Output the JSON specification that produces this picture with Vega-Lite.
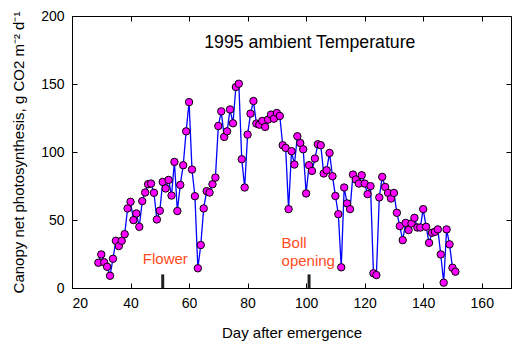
{
  "$schema": "https://vega.github.io/schema/vega-lite/v6.json",
  "width": 439,
  "height": 272,
  "autosize": {"type": "none"},
  "padding": {"left": 72, "top": 16, "right": 1, "bottom": 55},
  "background": "white",
  "config": {
    "font": "Liberation Sans",
    "view": {"stroke": "black", "strokeWidth": 1},
    "axis": {"grid": false, "domainColor": "black", "tickColor": "black", "labelColor": "black", "titleColor": "black", "labelFont": "Liberation Sans", "titleFont": "Liberation Sans", "titleFontWeight": "normal", "labelFontSize": 14, "titleFontSize": 15, "tickSize": -5, "domain": true}
  },
  "datasets": {
    "pn": [
      {"day": 29, "pn": 18.6}, {"day": 30, "pn": 24.7}, {"day": 31, "pn": 18.9}, {"day": 32, "pn": 15.6}, {"day": 33, "pn": 9.0},
      {"day": 34, "pn": 21.5}, {"day": 35, "pn": 34.7}, {"day": 36, "pn": 30.8}, {"day": 37, "pn": 34.7}, {"day": 38, "pn": 39.6},
      {"day": 39, "pn": 58.5}, {"day": 40, "pn": 63.4}, {"day": 41, "pn": 49.9}, {"day": 42, "pn": 54.8}, {"day": 43, "pn": 45.0},
      {"day": 44, "pn": 63.9}, {"day": 45, "pn": 70.2}, {"day": 46, "pn": 76.3}, {"day": 47, "pn": 76.8}, {"day": 48, "pn": 70.0},
      {"day": 49, "pn": 50.4}, {"day": 50, "pn": 56.8}, {"day": 51, "pn": 78.0}, {"day": 52, "pn": 73.2}, {"day": 53, "pn": 79.5},
      {"day": 54, "pn": 68.0}, {"day": 55, "pn": 92.7}, {"day": 56, "pn": 56.6}, {"day": 57, "pn": 75.8}, {"day": 58, "pn": 90.3},
      {"day": 59, "pn": 115.2}, {"day": 60, "pn": 136.7}, {"day": 61, "pn": 87.1}, {"day": 62, "pn": 67.5}, {"day": 63, "pn": 14.5},
      {"day": 64, "pn": 31.6}, {"day": 65, "pn": 58.5}, {"day": 66, "pn": 71.2}, {"day": 67, "pn": 70.2}, {"day": 68, "pn": 76.3},
      {"day": 69, "pn": 81.2}, {"day": 70, "pn": 119.1}, {"day": 71, "pn": 129.9}, {"day": 72, "pn": 111.1}, {"day": 73, "pn": 115.2},
      {"day": 74, "pn": 131.3}, {"day": 75, "pn": 121.1}, {"day": 76, "pn": 147.8}, {"day": 77, "pn": 150.2}, {"day": 78, "pn": 94.7},
      {"day": 79, "pn": 73.9}, {"day": 80, "pn": 112.8}, {"day": 81, "pn": 128.2}, {"day": 82, "pn": 137.5}, {"day": 83, "pn": 120.9},
      {"day": 84, "pn": 120.1}, {"day": 85, "pn": 122.8}, {"day": 86, "pn": 118.4}, {"day": 87, "pn": 123.8}, {"day": 88, "pn": 127.5},
      {"day": 89, "pn": 124.5}, {"day": 90, "pn": 128.7}, {"day": 91, "pn": 126.5}, {"day": 92, "pn": 105.0}, {"day": 93, "pn": 103.0},
      {"day": 94, "pn": 58.0}, {"day": 95, "pn": 100.6}, {"day": 96, "pn": 90.8}, {"day": 97, "pn": 111.6}, {"day": 98, "pn": 106.6},
      {"day": 99, "pn": 102.0}, {"day": 100, "pn": 69.5}, {"day": 101, "pn": 90.3}, {"day": 102, "pn": 86.1}, {"day": 103, "pn": 95.2},
      {"day": 104, "pn": 105.7}, {"day": 105, "pn": 105.0}, {"day": 106, "pn": 84.2}, {"day": 107, "pn": 86.6}, {"day": 108, "pn": 99.3},
      {"day": 109, "pn": 82.2}, {"day": 110, "pn": 67.7}, {"day": 111, "pn": 54.3}, {"day": 112, "pn": 15.2}, {"day": 113, "pn": 73.9},
      {"day": 114, "pn": 62.2}, {"day": 115, "pn": 58.0}, {"day": 116, "pn": 83.4}, {"day": 117, "pn": 79.8}, {"day": 118, "pn": 76.8},
      {"day": 119, "pn": 82.9}, {"day": 120, "pn": 76.8}, {"day": 121, "pn": 69.0}, {"day": 122, "pn": 74.9}, {"day": 123, "pn": 10.8},
      {"day": 124, "pn": 9.5}, {"day": 125, "pn": 66.6}, {"day": 126, "pn": 81.7}, {"day": 127, "pn": 74.3}, {"day": 128, "pn": 69.9},
      {"day": 129, "pn": 65.8}, {"day": 130, "pn": 69.9}, {"day": 131, "pn": 55.3}, {"day": 132, "pn": 45.5}, {"day": 133, "pn": 35.2},
      {"day": 134, "pn": 47.9}, {"day": 135, "pn": 42.6}, {"day": 136, "pn": 47.5}, {"day": 137, "pn": 51.6}, {"day": 138, "pn": 44.5},
      {"day": 139, "pn": 44.5}, {"day": 140, "pn": 58.0}, {"day": 141, "pn": 45.0}, {"day": 142, "pn": 33.2}, {"day": 143, "pn": 40.6},
      {"day": 144, "pn": 41.3}, {"day": 145, "pn": 43.1}, {"day": 146, "pn": 24.7}, {"day": 147, "pn": 3.9}, {"day": 148, "pn": 43.1},
      {"day": 149, "pn": 32.1}, {"day": 150, "pn": 14.9}, {"day": 151, "pn": 12.0}
    ],
    "events": [
      {"day": 51, "lo": 0, "hi": 10},
      {"day": 101, "lo": 0, "hi": 10}
    ],
    "labels": [
      {"day": 44.2, "pn": 21.3, "label": "Flower", "kind": "event"},
      {"day": 91.6, "pn": 33.4, "label": "Boll", "kind": "event"},
      {"day": 91.6, "pn": 19.6, "label": "opening", "kind": "event"}
    ],
    "title": [
      {"day": 65.2, "pn": 179.8, "label": "1995 ambient Temperature"}
    ]
  },
  "resolve": {"axis": {"x": "independent", "y": "independent"}},
  "layer": [
    {
      "data": {"name": "pn"},
      "mark": {"type": "line", "color": "#0000FF", "strokeWidth": 1.3},
      "encoding": {
        "x": {"field": "day", "type": "quantitative", "scale": {"domain": [20, 170], "nice": false}, "axis": {"orient": "bottom", "values": [20, 40, 60, 80, 100, 120, 140, 160], "title": "Day after emergence", "labelPadding": 13, "titlePadding": 15}},
        "y": {"field": "pn", "type": "quantitative", "scale": {"domain": [0, 200], "nice": false}, "axis": {"orient": "left", "values": [0, 50, 100, 150, 200], "title": "Canopy net photosynthesis, g CO2 m⁻² d⁻¹", "labelPadding": 13, "titlePadding": 14}}
      }
    },
    {
      "data": {"name": "pn"},
      "mark": {"type": "point", "shape": "circle", "filled": true, "fill": "#FF00FF", "stroke": "black", "strokeWidth": 1, "size": 55, "opacity": 1},
      "encoding": {
        "x": {"field": "day", "type": "quantitative", "scale": {"domain": [20, 170], "nice": false}, "axis": {"orient": "top", "values": [20, 40, 60, 80, 100, 120, 140, 160], "labels": false, "title": null, "domain": false}},
        "y": {"field": "pn", "type": "quantitative", "scale": {"domain": [0, 200], "nice": false}, "axis": {"orient": "right", "values": [0, 50, 100, 150, 200], "labels": false, "title": null, "domain": false}}
      }
    },
    {
      "data": {"name": "events"},
      "mark": {"type": "rule", "color": "#222222", "strokeWidth": 3},
      "encoding": {
        "x": {"field": "day", "type": "quantitative", "axis": null},
        "y": {"field": "lo", "type": "quantitative", "axis": null},
        "y2": {"field": "hi"}
      }
    },
    {
      "data": {"name": "labels"},
      "mark": {"type": "text", "align": "left", "baseline": "middle", "fontSize": 15, "color": "#FF4B22", "font": "Liberation Sans"},
      "encoding": {
        "x": {"field": "day", "type": "quantitative", "axis": null},
        "y": {"field": "pn", "type": "quantitative", "axis": null},
        "text": {"field": "label"}
      }
    },
    {
      "data": {"name": "title"},
      "mark": {"type": "text", "align": "left", "baseline": "middle", "fontSize": 17.7, "color": "black", "font": "Liberation Sans"},
      "encoding": {
        "x": {"field": "day", "type": "quantitative", "axis": null},
        "y": {"field": "pn", "type": "quantitative", "axis": null},
        "text": {"field": "label"}
      }
    }
  ]
}
